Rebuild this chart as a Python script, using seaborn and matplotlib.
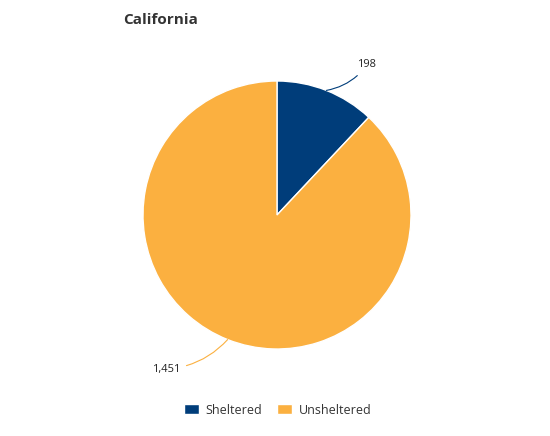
import numpy as np
import matplotlib
matplotlib.use('Agg')
import matplotlib.pyplot as plt
import seaborn as sns
from matplotlib.patches import Patch

sns.set_style('white')
plt.rcParams['font.family'] = ['Open Sans', 'DejaVu Sans']

categories = ['Sheltered', 'Unsheltered']
values = [198, 1451]
value_labels = ['198', '1,451']
colors = ['#003d7a', '#fbb040']

fig = plt.figure(figsize=(5.5, 4.36), dpi=100)
# pie axes sized so radius ~134px, centered at (277, 215)
ax = fig.add_axes([(277 - 134) / 550, (436 - 215 - 134) / 436, 268 / 550, 268 / 436])
wedges, _ = ax.pie(values, colors=colors, startangle=90, counterclock=False,
                   wedgeprops=dict(edgecolor='white', linewidth=1), radius=1.0)
ax.set_xlim(-1, 1)
ax.set_ylim(-1, 1)
ax.set_aspect('auto')

# data labels with connector lines
label_pos = [(0.60, 1.12), (-0.72, -1.15)]
for w, lab, pos in zip(wedges, value_labels, label_pos):
    ang = np.deg2rad((w.theta1 + w.theta2) / 2)
    x, y = np.cos(ang), np.sin(ang)
    ha = 'left' if pos[0] > 0 else 'right'
    ax.annotate(lab, xy=(x, y), xytext=pos, ha=ha, va='center', fontsize=8,
                color='#222222', annotation_clip=False,
                arrowprops=dict(arrowstyle='-', color=w.get_facecolor(), lw=0.8,
                                connectionstyle='arc3,rad=-0.2' if pos[0] > 0 else 'arc3,rad=0.2',
                                shrinkA=2, shrinkB=0))

fig.text(123 / 550, 1 - 20 / 436, 'California', fontsize=11, fontweight='bold',
         color='#333333', ha='left', va='center')

handles = [Patch(facecolor=c, label=l) for c, l in zip(colors, categories)]
fig.legend(handles=handles, loc='center', bbox_to_anchor=(0.505, 1 - 410 / 436), ncol=2,
           frameon=False, fontsize=9, handlelength=1.2, handleheight=0.9,
           columnspacing=1.2, handletextpad=0.5, labelcolor='#333333')

fig.savefig('out.png', dpi=100)
